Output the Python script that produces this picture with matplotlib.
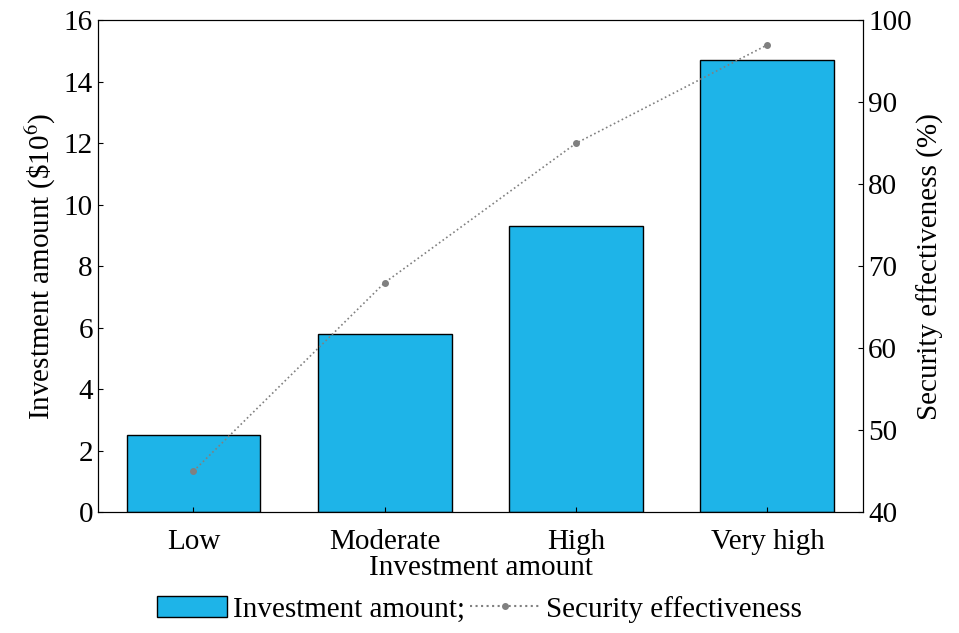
import matplotlib.pyplot as plt
from matplotlib.patches import Patch
from matplotlib.lines import Line2D

plt.rcParams['font.family'] = ['Liberation Serif', 'DejaVu Serif']
plt.rcParams['mathtext.fontset'] = 'stix'

categories = ["Low", "Moderate", "High", "Very high"]
investment = [2.5, 5.8, 9.3, 14.7]
effectiveness = [45, 68, 85, 97]

fig = plt.figure(figsize=(9.59, 6.33), dpi=100)
ax = fig.add_axes([0.102, 0.191, 0.798, 0.777])
x = range(len(categories))
ax.bar(x, investment, width=0.7, color="#1eb4e8", edgecolor="black", linewidth=1)
ax.set_xlim(-0.5, 3.5)
ax.set_ylim(0, 16)
ax.set_xticks(list(x))
ax.set_xticklabels(categories)
ax.set_yticks(range(0, 17, 2))
ax.tick_params(labelsize=21, direction="in")
ax.tick_params(axis="x", pad=12)
ax.set_xlabel("Investment amount", fontsize=21, labelpad=0)
ax.set_ylabel("Investment amount (\\$10$^6$)", fontsize=21)

ax2 = ax.twinx()
ax2.plot(x, effectiveness, color="gray", linestyle=":", marker="o", markersize=4, linewidth=1.2)
ax2.set_ylim(40, 100)
ax2.tick_params(labelsize=21, direction="in")
ax2.set_ylabel("Security effectiveness (%)", fontsize=21)

handles = [Patch(facecolor="#1eb4e8", edgecolor="black"),
           Line2D([], [], color="gray", linestyle=":", marker="o", markersize=4)]
fig.legend(handles, ["Investment amount;", "Security effectiveness"], loc="lower center",
           bbox_to_anchor=(0.5, -0.025), ncol=2, frameon=False, fontsize=21,
           handlelength=2.4, handletextpad=0.2, columnspacing=0.2)

fig.savefig("out.png", dpi=100)
plt.close()
